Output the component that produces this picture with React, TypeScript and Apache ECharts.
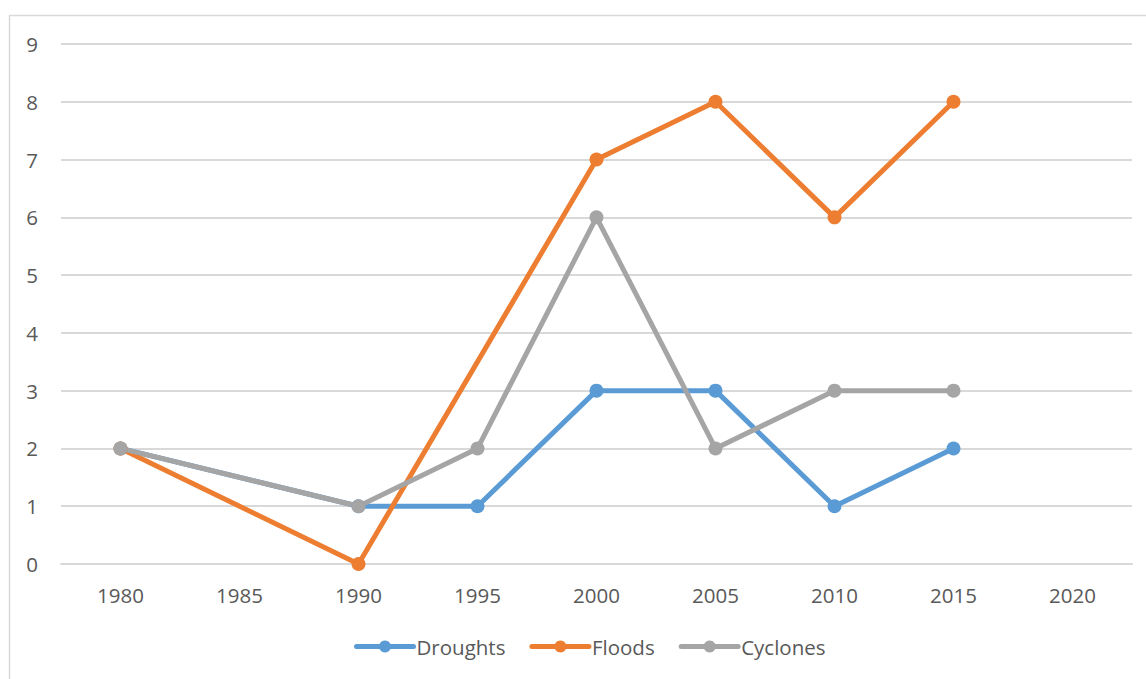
import React, { useEffect, useRef } from "react";
import * as echarts from "echarts";

const years = ["1980", "1985", "1990", "1995", "2000", "2005", "2010", "2015", "2020"];
const droughts = [2, null, 1, 1, 3, 3, 1, 2, null];
const floods = [2, null, 0, null, 7, 8, 6, 8, null];
const cyclones = [2, null, 1, 2, 6, 2, 3, 3, null];
const yTicks = { min: 0, max: 9, interval: 1 };
const seriesNames = ["Droughts", "Floods", "Cyclones"];
const colors = ["#5b9bd5", "#ed7d31", "#a5a5a5"];

const FONT = "Open Sans";
const TEXT = "#595959";

export default function App() {
  const ref = useRef<HTMLDivElement>(null);
  useEffect(() => {
    if (!ref.current) return;
    const chart = echarts.init(ref.current, undefined, { renderer: "svg" });
    const mk = (name: string, data: (number | null)[], color: string) => ({
      name,
      type: "line",
      data,
      connectNulls: true,
      symbol: "circle",
      symbolSize: 14,
      itemStyle: { color },
      lineStyle: { color, width: 5, cap: "round", join: "round" },
      emphasis: { disabled: true },
    });
    chart.setOption({
      animation: false,
      backgroundColor: "#ffffff",
      textStyle: { fontFamily: FONT },
      graphic: [
        {
          type: "rect",
          shape: { x: 9.5, y: 15.5, width: 1300, height: 800 },
          style: { fill: "none", stroke: "#d9d9d9", lineWidth: 1.5 },
          silent: true,
        },
      ],
      grid: { left: 61, right: 14, top: 44, bottom: 115, containLabel: false },
      legend: {
        top: 631,
        left: 349,
        itemWidth: 57,
        itemHeight: 15,
        itemGap: 24,
        textStyle: { color: TEXT, fontSize: 20.5, fontFamily: FONT, padding: [0, 0, 0, -2] },
        data: seriesNames.map((n, i) => ({
          name: n,
          itemStyle: { color: colors[i] },
          lineStyle: { color: colors[i], width: 5, cap: "round" },
        })),
      },
      xAxis: {
        type: "category",
        data: years,
        boundaryGap: true,
        axisLine: { show: true, lineStyle: { color: "#d9d9d9", width: 2 } },
        axisTick: { show: false },
        axisLabel: { color: TEXT, fontSize: 20.5, fontFamily: FONT, margin: 20 },
      },
      yAxis: {
        type: "value",
        min: yTicks.min,
        max: yTicks.max,
        interval: yTicks.interval,
        axisLine: { show: false },
        axisTick: { show: false },
        splitLine: { lineStyle: { color: "#d9d9d9", width: 2 } },
        axisLabel: { color: TEXT, fontSize: 20.5, fontFamily: FONT, margin: 23 },
      },
      series: [
        mk(seriesNames[0], droughts, colors[0]),
        mk(seriesNames[1], floods, colors[1]),
        mk(seriesNames[2], cyclones, colors[2]),
      ],
    });
    return () => chart.dispose();
  }, []);
  return (
    <div
      ref={ref}
      style={{ position: "absolute", left: 0, top: 0, width: 1146, height: 679 }}
    />
  );
}
